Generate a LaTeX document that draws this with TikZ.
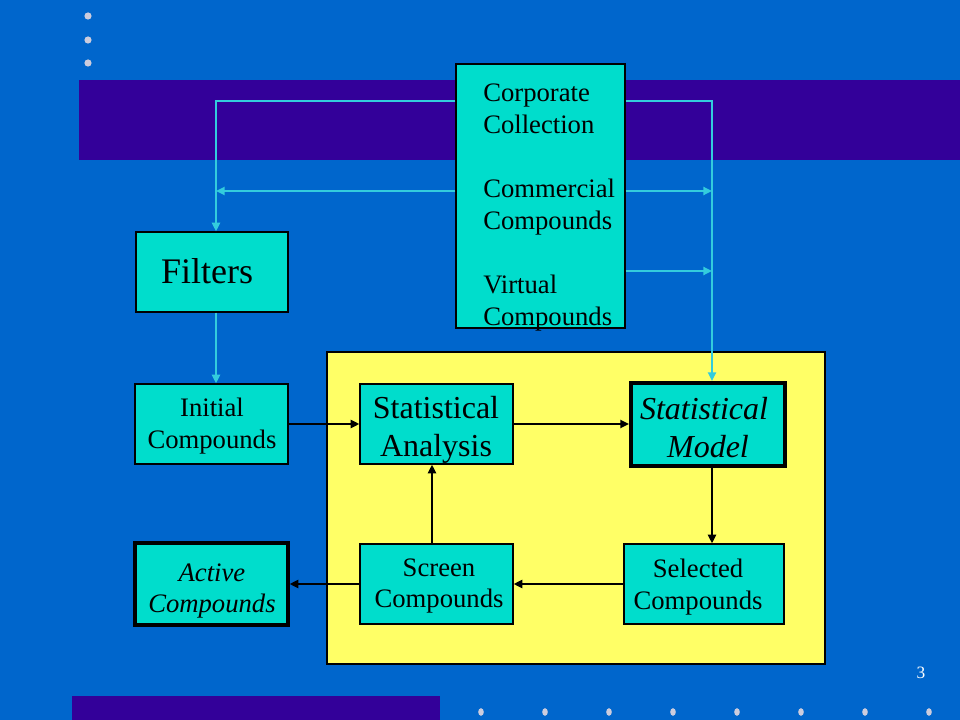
\documentclass[tikz,border=0pt]{standalone}
\usepackage{fontspec}
\setmainfont{Liberation Serif}
\usetikzlibrary{arrows.meta,fit}
\definecolor{bgblue}{HTML}{0066CC}
\definecolor{barpurple}{HTML}{330099}
\definecolor{turq}{HTML}{00DDCC}
\definecolor{cyanline}{HTML}{33CCDD}
\definecolor{yelbox}{HTML}{FFFF66}
\definecolor{dotgray}{HTML}{CCCCDD}
\tikzset{
  box/.style={draw=black, line width=0.9pt, fill=turq, inner sep=0pt},
  thickbox/.style={box, line width=3pt},
  medbox/.style={box, line width=2.4pt},
  lbl/.style={inner sep=0pt, align=center, text=black},
  txtA/.style={font=\fontsize{20}{23.5}\selectfont},
  txtB/.style={font=\fontsize{24}{28.5}\selectfont},
  cline/.style={draw=cyanline, line width=1.7pt},
  carrow/.style={cline, -{Triangle[length=6.5pt,width=6pt]}},
  barrow/.style={draw=black, line width=1.6pt, -{Triangle[length=6.5pt,width=6pt]}},
  dot/.style={fill=dotgray, draw=none}
}
\begin{document}
\begin{tikzpicture}[x=0.75pt,y=-0.75pt]
% background
\fill[bgblue] (0,0) rectangle (960,720);
\useasboundingbox (0,0) rectangle (960,720);
\fill[barpurple] (79,80) rectangle (960,160);
\fill[barpurple] (72,696) rectangle (440,720);
% dots
\foreach \yy in {16,40,63} \fill[dot] (88,\yy) circle (3.6);
\foreach \xx in {481,545,609,673,737,801,865,929} \fill[dot] (\xx,712) ellipse (2.8 and 3.8);
\node (pg) [text=white, font=\fontsize{13}{15}\selectfont, inner sep=0pt] at (921,673) {3};
% yellow area
\node (yel) [draw=black, line width=0.9pt, fill=yelbox, inner sep=0pt, fit={(327,352) (825,664)}] {};
% source box
\node (src) [box, fit={(456,64) (625,328)}] {};
\node (srctext) [anchor=north west, align=left, inner sep=0pt, font=\fontsize{20}{24}\selectfont] at (483,84)
  {Corporate\\Collection\\[24pt]Commercial\\Compounds\\[24pt]Virtual\\Compounds};
% boxes
\node (filt) [box, fit={(136,232) (288,312)}] {};
\node (init) [box, fit={(135,384) (288,464)}] {};
\node (act) [medbox, fit={(135,543) (288,625)}] {};
\node (sa) [box, fit={(360,384) (513,464)}] {};
\node (mdl) [thickbox, fit={(631,383) (785,466)}] {};
\node (scr) [box, fit={(360,544) (513,624)}] {};
\node (sel) [box, fit={(624,544) (784,624)}] {};
% labels
\node (filtL) [lbl, font=\fontsize{27}{32}\selectfont] at (207,271) {Filters};
\node (initL) [lbl, txtA] at (212,426) {Initial\\Compounds};
\node (actL) [lbl, txtA] at (212,591) {\itshape Active\\\itshape Compounds};
\node (saL) [lbl, txtB] at (436,430) {Statistical\\Analysis};
\node (mdlL) [lbl, txtB] at (704,428) {\itshape Statistical\\\itshape\ Model};
\node (scrL) [lbl, txtA] at (439,586) {Screen\\Compounds};
\node (selL) [lbl, txtA] at (698,587) {Selected\\Compounds};
% helper coordinates
\coordinate (yA) at (0,101);
\coordinate (yB) at (0,191);
\coordinate (yC) at (0,271);
\coordinate (fx) at (216,0);
\coordinate (mx) at (712,0);
\coordinate (sx) at (432,0);
% cyan connectors
\draw[carrow] (src.west |- yA) -| (fx |- filt.north);
\draw[carrow] (src.west |- yB) -- (fx |- yB);
\draw[carrow] (fx |- filt.south) -- (fx |- init.north);
\draw[carrow] (src.east |- yA) -| (mx |- mdl.north);
\draw[carrow] (src.east |- yB) -- (mx |- yB);
\draw[carrow] (src.east |- yC) -- (mx |- yC);
% black connectors
\draw[barrow] (init.east) -- (sa.west);
\draw[barrow] (sa.east) -- (sa.east -| mdl.west);
\draw[barrow] (mx |- mdl.south) -- (mx |- sel.north);
\draw[barrow] (sel.west) -- (scr.east);
\draw[barrow] (sx |- scr.north) -- (sx |- sa.south);
\draw[barrow] (scr.west) -- (scr.west -| act.east);
\end{tikzpicture}
\end{document}
